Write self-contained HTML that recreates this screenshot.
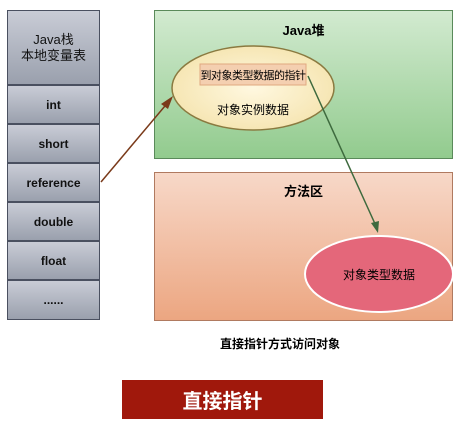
<!DOCTYPE html>
<html><head><meta charset="utf-8"><style>
body{margin:0;width:467px;height:425px;background:#fff;overflow:hidden;position:relative;font-family:"Liberation Sans","Noto Sans CJK SC",sans-serif}
.c{position:absolute;left:7px;width:93px;border:1px solid #4a5060;box-sizing:border-box;background:linear-gradient(#c9ccd6,#9aa0ad);display:flex;align-items:center;justify-content:center;text-align:center;font-weight:bold;font-size:12px;color:#111;line-height:16px}
</style></head><body>
<div class="c" style="top:10px;height:75px;font-weight:normal;font-size:13px">Java栈<br>本地变量表</div>
<div class="c" style="top:85px;height:39px">int</div>
<div class="c" style="top:124px;height:39px">short</div>
<div class="c" style="top:163px;height:39px">reference</div>
<div class="c" style="top:202px;height:39px">double</div>
<div class="c" style="top:241px;height:39px">float</div>
<div class="c" style="top:280px;height:40px">......</div>
<div style="position:absolute;left:154px;top:10px;width:299px;height:149px;border:1px solid #5a8a5a;box-sizing:border-box;background:linear-gradient(#d2ead0,#92cb8e)"></div>
<div style="position:absolute;left:154px;top:172px;width:299px;height:149px;border:1px solid #b07a60;box-sizing:border-box;background:linear-gradient(#f7d8c8,#eca681)"></div>
<div style="position:absolute;left:154px;top:20px;width:299px;text-align:center;font-weight:bold;font-size:13px">Java堆</div>
<div style="position:absolute;left:154px;top:181px;width:299px;text-align:center;font-weight:bold;font-size:13px">方法区</div>
<svg style="position:absolute;left:0;top:0" width="467" height="425">
<defs><radialGradient id="g1"><stop offset="0" stop-color="#fff8e0"/><stop offset="1" stop-color="#f6e6b4"/></radialGradient></defs>
<ellipse cx="253" cy="88" rx="81" ry="42" fill="url(#g1)" stroke="#8a7a40" stroke-width="1.5"/>
<rect x="200" y="64" width="106" height="21" fill="#f4cfb0" stroke="#e0a880"/>
<ellipse cx="379" cy="274" rx="74" ry="38" fill="#e4677a" stroke="#fff" stroke-width="2"/>
<line x1="101" y1="182" x2="170" y2="100" stroke="#7a3a1a" stroke-width="1.5"/>
<polygon points="173,96 161,104 168,109" fill="#7a3a1a"/>
<line x1="308" y1="76" x2="376" y2="226" stroke="#3e6a3e" stroke-width="1.5"/>
<polygon points="378,233 371,223 379,221" fill="#3e6a3e"/>
</svg>
<div style="position:absolute;left:195px;top:67px;width:116px;text-align:center;font-size:11px;white-space:nowrap;letter-spacing:-0.5px">到对象类型数据的指针</div>
<div style="position:absolute;left:172px;top:101px;width:162px;text-align:center;font-size:12px">对象实例数据</div>
<div style="position:absolute;left:305px;top:266px;width:148px;text-align:center;font-size:12px">对象类型数据</div>
<div style="position:absolute;left:200px;top:335px;width:160px;text-align:center;font-size:12px;font-weight:bold">直接指针方式访问对象</div>
<div style="position:absolute;left:122px;top:380px;width:201px;height:39px;background:#a0180c;color:#fff;font-weight:bold;font-size:20px;display:flex;align-items:center;justify-content:center">直接指针</div>
</body></html>
